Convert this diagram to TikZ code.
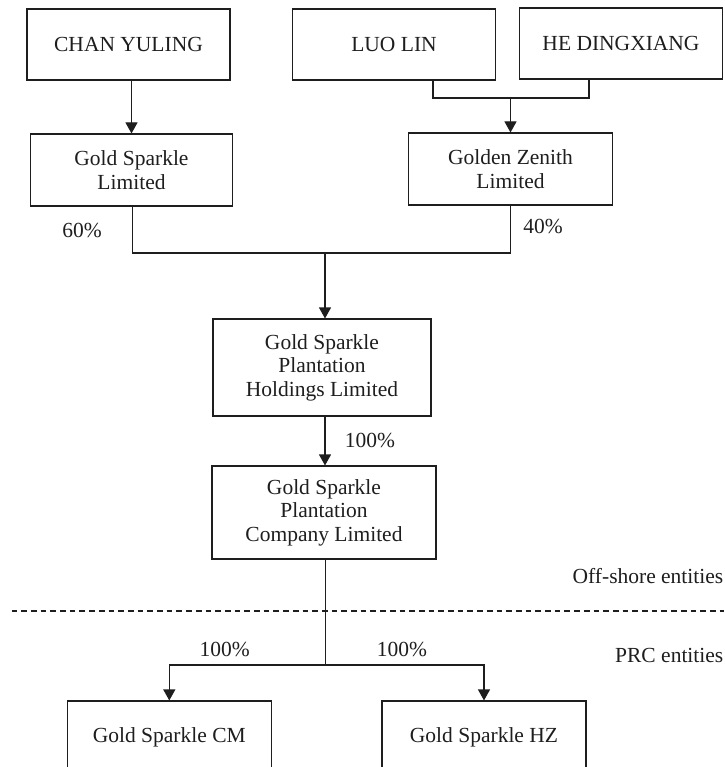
\documentclass[tikz,border=0pt]{standalone}
\usepackage{fontspec}
\setmainfont{Liberation Serif}
\usetikzlibrary{arrows.meta}
\definecolor{ink}{RGB}{30,30,30}
\tikzset{
  box/.style={draw=ink, line width=1.1pt, inner sep=0pt, align=center, text=ink,
    font=\fontsize{21.5}{23.5}\selectfont},
  lbl/.style={inner sep=0pt, text=ink, font=\fontsize{21.5}{23.5}\selectfont},
  conn/.style={draw=ink, line width=1.1pt},
  arr/.style={conn, -{Triangle[length=11pt,width=12pt]}},
}
\begin{document}
\begin{tikzpicture}[x=1pt,y=-1pt]
\clip (0,0) rectangle (724,767);
\fill[white] (0,0) rectangle (724,767);
% top row
\node[box, minimum width=203pt, minimum height=71pt] (chan) at (128.5,44.5) {CHAN YULING};
\node[box, minimum width=203.5pt, minimum height=71pt] (luo) at (394,44.5) {LUO LIN};
\node[box, minimum width=203pt, minimum height=71pt] (he) at (621,43.5) {HE DINGXIANG};
% second row
\node[box, minimum width=202pt, minimum height=72pt] (gsl) at (131.5,170) {Gold Sparkle\\Limited};
\node[box, minimum width=204pt, minimum height=72pt] (gz) at (510.5,169) {Golden Zenith\\Limited};
% middle
\node[box, minimum width=218pt, minimum height=97pt] (gsph) at (322,367.5) {Gold Sparkle\\Plantation\\Holdings Limited};
\node[box, minimum width=224pt, minimum height=93pt] (gspc) at (324,512.5) {Gold Sparkle\\Plantation\\Company Limited};
% bottom
\node[box, minimum width=203.5pt, minimum height=72pt] (cm) at (169.3,737) {Gold Sparkle CM};
\node[box, minimum width=204pt, minimum height=72pt] (hz) at (484,737) {Gold Sparkle HZ};
% junctions
\coordinate (j1) at (510.5,98);
\coordinate (j2) at (325,253);
\coordinate (j3) at (325.5,665);
% connectors
\draw[arr] (gsl.north |- chan.south) -- (gsl.north);
\draw[conn] ([xshift=39pt]luo.south) |- (j1) -| ([xshift=-32pt]he.south);
\draw[arr] (j1) -- (gz.north);
\draw[conn] ([xshift=1pt]gsl.south) |- (j2) -| (gz.south);
\draw[arr] (j2) -- (gsph.north -| j2);
\draw[arr] (gsph.south -| j2) -- (gspc.north -| j2);
\draw[conn] (gspc.south -| j3) -- (j3);
\draw[arr] (j3) -| (cm.north);
\draw[arr] (j3) -| (hz.north);
% divider
\draw[draw=ink, line width=1.1pt, dash pattern=on 5.7pt off 4pt] (11.5,611) -- (724,611);
% labels
\node[lbl] (p60) at (82,230) {60\%};
\node[lbl] (p40) at (543,226) {40\%};
\node[lbl] (p100a) at (370,440) {100\%};
\node[lbl] (p100b) at (224.6,649) {100\%};
\node[lbl] (p100c) at (402,649) {100\%};
\node[lbl, anchor=east] (off) at (723.5,576) {Off-shore entities};
\node[lbl, anchor=east] (prc) at (723.5,655) {PRC entities};
\end{tikzpicture}
\end{document}
